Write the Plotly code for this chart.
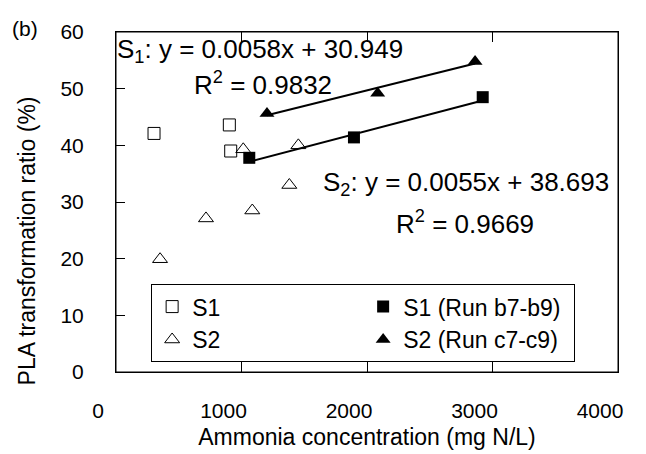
import plotly.graph_objects as go

# Data
s1_x = [303, 903, 914]
s1_y = [42.1, 43.6, 39.0]
s2_x = [351, 717, 1014, 1086, 1381, 1453]
s2_y = [19.9, 27.1, 39.3, 28.5, 33.0, 40.0]
s1run_x = [1062, 1896, 2922]
s1run_y = [37.8, 41.4, 48.5]
s2run_x = [1203, 2085, 2861]
s2run_y = [45.6, 49.2, 54.8]

# Trend line coefficients (as printed on the chart)
fit_sq = (0.0058, 30.949)
fit_tr = (0.0055, 38.693)

x_ticks = [0, 1000, 2000, 3000, 4000]
y_ticks = [0, 10, 20, 30, 40, 50, 60]

FONT = "Liberation Sans, Arial, sans-serif"

fig = go.Figure()

fig.add_trace(go.Scatter(x=s1_x, y=s1_y, mode="markers", name="S1",
                         marker=dict(symbol="square-open", size=12, color="black",
                                     line=dict(width=1, color="black"))))
fig.add_trace(go.Scatter(x=s1run_x, y=s1run_y, mode="markers", name="S1 (Run b7-b9)",
                         marker=dict(symbol="square", size=12, color="black")))
fig.add_trace(go.Scatter(x=s2_x, y=s2_y, mode="markers", name="S2",
                         marker=dict(symbol="triangle-up-open", size=13, color="black",
                                     line=dict(width=1, color="black"))))
fig.add_trace(go.Scatter(x=s2run_x, y=s2run_y, mode="markers", name="S2 (Run c7-c9)",
                         marker=dict(symbol="triangle-up", size=13, color="black")))

# trend lines
lx1 = [s1run_x[0], s1run_x[-1]]
fig.add_trace(go.Scatter(x=lx1, y=[fit_sq[0] * v + fit_sq[1] for v in lx1], mode="lines",
                         line=dict(color="black", width=2), showlegend=False, hoverinfo="skip"))
lx2 = [s2run_x[0], s2run_x[-1]]
fig.add_trace(go.Scatter(x=lx2, y=[fit_tr[0] * v + fit_tr[1] for v in lx2], mode="lines",
                         line=dict(color="black", width=2), showlegend=False, hoverinfo="skip"))

ann_font = dict(family=FONT, size=26, color="black")
annotations = [
    dict(text="S<sub>1</sub>: y = 0.0058x + 30.949", x=-0.002, y=0.945, xref="paper", yref="paper",
         xanchor="left", yanchor="middle", showarrow=False, font=ann_font),
    dict(text="R<sup>2</sup> = 0.9832", x=0.152, y=0.85, xref="paper", yref="paper",
         xanchor="left", yanchor="middle", showarrow=False, font=ann_font),
    dict(text="S<sub>2</sub>: y = 0.0055x + 38.693", x=0.408, y=0.555, xref="paper", yref="paper",
         xanchor="left", yanchor="middle", showarrow=False, font=ann_font),
    dict(text="R<sup>2</sup> = 0.9669", x=0.553, y=0.44, xref="paper", yref="paper",
         xanchor="left", yanchor="middle", showarrow=False, font=ann_font),
    dict(text="(b)", x=-0.212, y=1.01, xref="paper", yref="paper",
         xanchor="left", yanchor="middle", showarrow=False,
         font=dict(family=FONT, size=21, color="black")),
    dict(text="PLA transformation ratio (%)", textangle=-90, x=-0.178, y=0.386,
         xref="paper", yref="paper", xanchor="center", yanchor="middle",
         showarrow=False, font=dict(family=FONT, size=23, color="black")),
]

fig.update_layout(
    width=646, height=454,
    margin=dict(l=108, r=36, t=17, b=90),
    paper_bgcolor="white", plot_bgcolor="white",
    font=dict(family=FONT, size=21, color="black"),
    showlegend=True,
    legend=dict(orientation="h", x=0.07, y=0.029, xanchor="left", yanchor="bottom",
                bordercolor="black", borderwidth=1, bgcolor="white",
                entrywidth=166, entrywidthmode="pixels", tracegroupgap=0,
                font=dict(family=FONT, size=23, color="black")),
    annotations=annotations,
    shapes=[dict(type="rect", xref="x domain", yref="y domain", x0=0, x1=1, y0=0, y1=1,
                 line=dict(color="black", width=1), fillcolor="rgba(0,0,0,0)", layer="above")],
    xaxis=dict(range=[0, 4000], tickvals=x_ticks, ticks="inside", ticklen=10, tickwidth=1,
               tickcolor="black", showline=True, linecolor="black", linewidth=1, mirror="ticks",
               showgrid=False, zeroline=False, ticklabelstandoff=20, ticklabelshift=-18,
               tickfont=dict(family=FONT, size=21),
               title=dict(text="Ammonia concentration (mg N/L)", standoff=7,
                          font=dict(family=FONT, size=23))),
    yaxis=dict(range=[0, 60], tickvals=y_ticks, ticks="inside", ticklen=9, tickwidth=1,
               tickcolor="black", showline=True, linecolor="black", linewidth=1, mirror=True,
               showgrid=False, zeroline=False, ticklabelstandoff=27,
               tickfont=dict(family=FONT, size=21)),
)

fig.write_html("out.html")
